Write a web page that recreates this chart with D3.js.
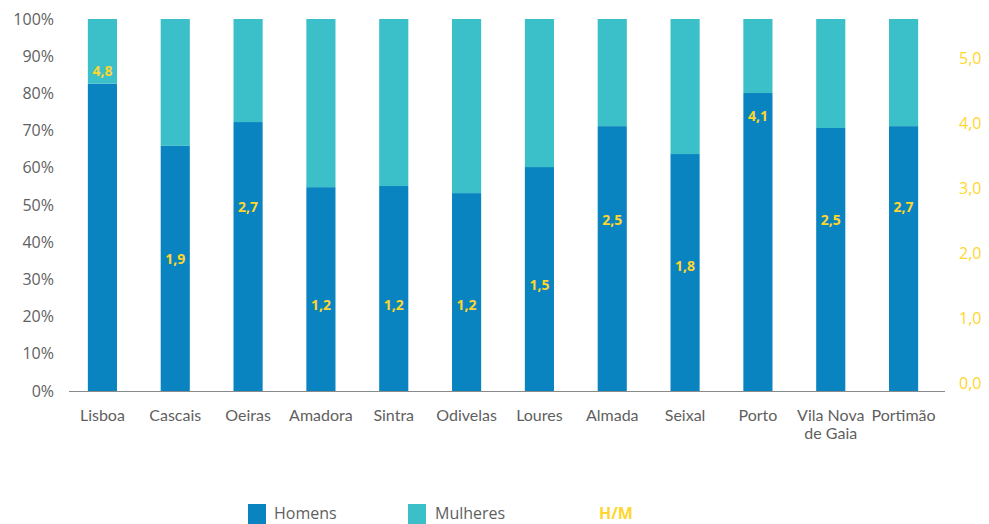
<!DOCTYPE html>
<html>
<head>
<meta charset="utf-8">
<script src="https://cdn.jsdelivr.net/npm/d3@7"></script>
<style>
  body { margin: 0; background: #fff; }
  text { font-family: "Open Sans", Lato, sans-serif; }
  .cat { font-family: Lato, "Open Sans", sans-serif; }
</style>
</head>
<body>
<div id="chart"></div>
<script>
// Data
const municipios = ["Lisboa", "Cascais", "Oeiras", "Amadora", "Sintra", "Odivelas",
  "Loures", "Almada", "Seixal", "Porto", "Vila Nova de Gaia", "Portimão"];
const homens = [82.6, 65.9, 72.3, 54.8, 55.1, 53.2, 60.2, 71.2, 63.7, 80.1, 70.7, 71.2];
const mulheres = homens.map(h => 100 - h);
const razaoHM = [4.8, 1.9, 2.7, 1.2, 1.2, 1.2, 1.5, 2.5, 1.8, 4.1, 2.5, 2.7];
const leftTicks = [0, 10, 20, 30, 40, 50, 60, 70, 80, 90, 100];
const rightTicks = [0, 1, 2, 3, 4, 5];

const width = 989, height = 524;
const cBlue = "#0a84c1", cTeal = "#3bbfc8", cYellow = "#ffd62e", cText = "#5f5f5f";

const svg = d3.select("#chart")
    .append("svg")
    .attr("width", width)
    .attr("height", height);

const x = d3.scaleBand()
    .domain(municipios)
    .range([66, 940])
    .paddingInner(0.6)
    .paddingOuter(0.3);

const y = d3.scaleLinear()
    .domain([0, 100])
    .range([391, 19]);

// right axis (H/M)
const yR = d3.scaleLinear()
    .domain([0, 5])
    .range([383, 58]);

// stacked bars
const stackData = municipios.map((m, i) => ({ m, Homens: homens[i], Mulheres: mulheres[i] }));
const series = d3.stack().keys(["Homens", "Mulheres"])(stackData);
const color = d3.scaleOrdinal().domain(["Homens", "Mulheres"]).range([cBlue, cTeal]);

svg.append("g")
    .selectAll("g")
    .data(series)
    .join("g")
    .attr("fill", d => color(d.key))
    .selectAll("rect")
    .data(d => d)
    .join("rect")
    .attr("x", d => x(d.data.m))
    .attr("y", d => y(d[1]))
    .attr("width", x.bandwidth())
    .attr("height", d => y(d[0]) - y(d[1]));

// baseline
svg.append("line")
    .attr("x1", 69).attr("x2", 945)
    .attr("y1", y(0) + 0.5).attr("y2", y(0) + 0.5)
    .attr("stroke", "#8a8a8a")
    .attr("stroke-width", 1.2);

// left axis
const leftAxis = svg.append("g")
    .attr("transform", "translate(54,0)")
    .call(d3.axisLeft(y).tickValues(leftTicks).tickSize(0).tickPadding(0).tickFormat(d => d + "%"));
leftAxis.select(".domain").remove();
leftAxis.selectAll("text")
    .attr("fill", cText)
    .style("font-size", "16px")
    .attr("dy", "0.32em");

// right axis
const rightAxis = svg.append("g")
    .attr("transform", "translate(959,0)")
    .call(d3.axisRight(yR).tickValues(rightTicks).tickSize(0).tickPadding(0)
        .tickFormat(d => d3.format(".1f")(d).replace(".", ",")));
rightAxis.select(".domain").remove();
rightAxis.selectAll("text")
    .attr("fill", cYellow)
    .style("font-size", "16px")
    .attr("dy", "0.32em");

// category labels
svg.append("g")
    .selectAll("text")
    .data(municipios)
    .join("text")
    .attr("class", "cat")
    .attr("x", d => x(d) + x.bandwidth() / 2)
    .attr("y", 421)
    .attr("text-anchor", "middle")
    .attr("fill", cText)
    .style("font-size", "16px")
    .each(function(d) {
        const t = d3.select(this);
        if (d === "Vila Nova de Gaia") {
            t.append("tspan").attr("x", x(d) + x.bandwidth() / 2).text("Vila Nova");
            t.append("tspan").attr("x", x(d) + x.bandwidth() / 2).attr("dy", 18).text("de Gaia");
        } else {
            t.text(d);
        }
    });

// H/M labels
svg.append("g")
    .selectAll("text")
    .data(municipios)
    .join("text")
    .attr("x", d => x(d) + x.bandwidth() / 2)
    .attr("y", (d, i) => yR(razaoHM[i]))
    .attr("dy", "0.35em")
    .attr("text-anchor", "middle")
    .attr("fill", cYellow)
    .style("font-size", "14px")
    .style("font-weight", "bold")
    .text((d, i) => d3.format(".1f")(razaoHM[i]).replace(".", ","));

// legend
const legend = svg.append("g");
legend.append("rect").attr("x", 248).attr("y", 504).attr("width", 18).attr("height", 20).attr("fill", cBlue);
legend.append("text").attr("x", 274).attr("y", 519).attr("fill", cText).style("font-size", "16px").text("Homens");
legend.append("rect").attr("x", 408).attr("y", 504).attr("width", 18).attr("height", 20).attr("fill", cTeal);
legend.append("text").attr("x", 435).attr("y", 519).attr("fill", cText).style("font-size", "16px").text("Mulheres");
legend.append("text").attr("x", 599).attr("y", 519).attr("fill", cYellow).style("font-size", "16px")
    .style("font-weight", "bold").text("H/M");
</script>
</body>
</html>
